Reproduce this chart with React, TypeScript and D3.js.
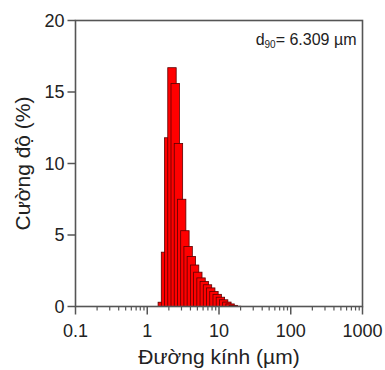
import React from "react";
import * as d3 from "d3";

// Bin lower edges (µm) and intensity (%)
const binSizes = [1.416, 1.57, 1.742, 1.932, 2.143, 2.377, 2.636, 2.924, 3.243, 3.597, 3.99, 4.426, 4.909, 5.445, 6.039, 6.699, 7.43, 8.241, 9.141, 10.14, 11.25, 12.47, 13.84, 15.35];
const intensity = [0.3, 3.8, 11.8, 16.7, 15.6, 11.4, 7.5, 5.3, 4.2, 3.5, 2.9, 2.4, 2.0, 1.75, 1.52, 1.3, 1.05, 0.85, 0.65, 0.47, 0.31, 0.18, 0.08, 0.02];
const xTickValues = [0.1, 1, 10, 100, 1000];
const xTickLabels = ["0.1", "1", "10", "100", "1000"];
const yTickValues = [0, 5, 10, 15, 20];
const annotationValue = "6.309";

const W = 385, H = 370;
const M = { left: 75.5, right: 362.5, top: 20.5, bottom: 306.5 };
const BAR_SPAN = 1.31; // bar width as multiplicative factor on log axis
const AXIS = "#555";
const TXT = "#222";
const FONT = "Arial, 'Liberation Sans', sans-serif";

export default function App() {
  const x = d3.scaleLog().domain([0.1, 1000]).range([M.left, M.right]);
  const y = d3.scaleLinear().domain([0, 20]).range([M.bottom, M.top]);

  const minor: number[] = [];
  for (let dec = 0.1; dec < 1000; dec *= 10) {
    for (let k = 2; k <= 9; k++) minor.push(+(dec * k).toPrecision(3));
  }

  return (
    <svg width={W} height={H} style={{ position: "absolute", left: 0, top: 0, background: "#fff" }} fontFamily={FONT}>
      {/* bars */}
      <g>
        {binSizes.map((s, i) => {
          const x0 = x(s);
          const x1 = x(s * BAR_SPAN);
          const yt = y(intensity[i]);
          return (
            <rect key={i} x={x0} y={yt} width={x1 - x0} height={y(0) - yt}
              fill="#ff0000" stroke="#5a0000" strokeWidth={0.8} />
          );
        })}
      </g>
      {/* frame */}
      <rect x={M.left} y={M.top} width={M.right - M.left} height={M.bottom - M.top}
        fill="none" stroke={AXIS} strokeWidth={1.6} />
      {/* y ticks */}
      {yTickValues.map((v) => (
        <g key={v}>
          <line x1={M.left - 8} x2={M.left} y1={y(v)} y2={y(v)} stroke={AXIS} strokeWidth={1.5} />
          <text x={M.left - 11} y={y(v)} dy="0.36em" textAnchor="end" fontSize={18} fill={TXT}>{v}</text>
        </g>
      ))}
      {/* x ticks */}
      {xTickValues.map((v, i) => (
        <g key={v}>
          <line x1={x(v)} x2={x(v)} y1={M.bottom} y2={M.bottom + 8} stroke={AXIS} strokeWidth={1.5} />
          <text x={x(v)} y={M.bottom + 30} textAnchor="middle" fontSize={18} fill={TXT}>{xTickLabels[i]}</text>
        </g>
      ))}
      {minor.map((v) => (
        <line key={v} x1={x(v)} x2={x(v)} y1={M.bottom} y2={M.bottom + 4} stroke={AXIS} strokeWidth={1.2} />
      ))}
      {/* titles */}
      <text x={(M.left + M.right) / 2} y={364} textAnchor="middle" fontSize={21} fill={TXT}>Đường kính (µm)</text>
      <text transform={`translate(30,${(M.top + M.bottom) / 2}) rotate(-90)`} textAnchor="middle" fontSize={21} fill={TXT}>Cường độ (%)</text>
      {/* annotation */}
      <text x={M.right - 6} y={45} textAnchor="end" fontSize={16} fill={TXT}>
        d<tspan fontSize={10} dy={3}>90</tspan><tspan dy={-3}>= {annotationValue} µm</tspan>
      </text>
    </svg>
  );
}
